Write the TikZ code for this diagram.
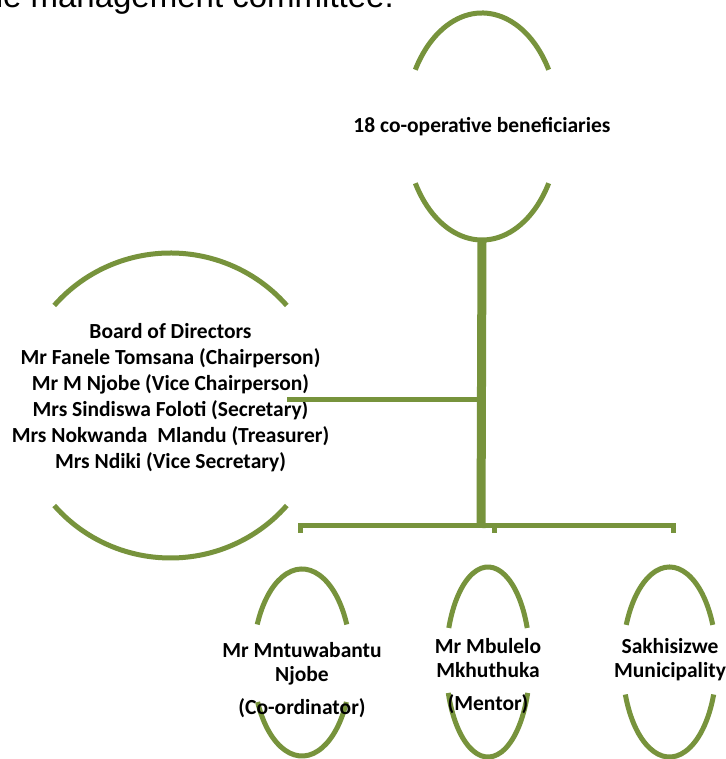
\documentclass[tikz,border=0pt]{standalone}
\usepackage{fontspec}
\setmainfont{Carlito}
\newfontfamily\arialf{Liberation Sans}
\usetikzlibrary{calc}
\definecolor{olivegreen}{HTML}{77933C}
\tikzset{
  arcline/.style={draw=olivegreen, line width=5pt},
  trunkline/.style={draw=olivegreen, line width=9pt},
  conn/.style={draw=olivegreen, line width=5pt},
  lbl/.style={font=\bfseries\fontsize{21.5}{24}\selectfont, align=center, text=black, inner sep=0pt},
  heading/.style={font=\arialf\fontsize{33}{38}\selectfont, text=black, inner sep=0pt, anchor=base east},
}
\newcommand\gapoval[6]{%
  \draw[arcline] (#1,#2) ++(#5:#3 and #4) arc[start angle=#5, end angle=180-#5, x radius=#3, y radius=#4];
  \draw[arcline] (#1,#2) ++(180+#6:#3 and #4) arc[start angle=180+#6, end angle=360-#6, x radius=#3, y radius=#4];}
\begin{document}
\begin{tikzpicture}[x=1pt,y=1pt]
\useasboundingbox (0,0) rectangle (725,759);
\clip (0,0) rectangle (725,759);
\fill[white] (0,0) rectangle (725,759);

% cut-off heading
\node[heading] (head) at (394,751) {the management committee.};

% ovals
\gapoval{482}{632.5}{77}{113.5}{30}{30}
\gapoval{170.5}{353.5}{154}{152.5}{41}{41}
\gapoval{302}{96.5}{49}{93.5}{24}{25}
\gapoval{488}{97}{42}{95}{21}{19}
\gapoval{669.5}{97}{47}{95}{23}{20}

% labels
\node[lbl] (top) at (482,632) {18 co-operative beneficiaries};
\node[lbl, font=\bfseries\fontsize{21.5}{26}\selectfont] (board) at (170.5,361) {Board of Directors\\Mr Fanele Tomsana (Chairperson)\\Mr M Njobe (Vice Chairperson)\\Mrs Sindiswa Foloti (Secretary)\\Mrs Nokwanda\ \ Mlandu (Treasurer)\\Mrs Ndiki (Vice Secretary)};
\node[lbl] (coord) at (302,79) {Mr Mntuwabantu\\Njobe\\[9pt](Co-ordinator)};
\node[lbl] (mentor) at (488,82.5) {Mr Mbulelo\\Mkhuthuka\\[9pt](Mentor)};
\node[lbl] (muni) at (670,99.5) {Sakhisizwe\\Municipality};

% connector points
\coordinate (topS) at (482,519);
\coordinate (hub) at (481,233);
\coordinate (boardE) at (287,359);
\coordinate (boardJ) at (481,359);
\coordinate (cL) at (300,226);
\coordinate (cM) at (494,226);
\coordinate (cR) at (673,226);

% connectors
\draw[trunkline] (topS) -- ($(hub)+(0,-2)$);
\draw[conn] (boardE) -- (boardJ);
\draw[conn] (cL) |- (hub) -| (cR);
\draw[conn] (cM) -- (cM |- hub);
\end{tikzpicture}
\end{document}
